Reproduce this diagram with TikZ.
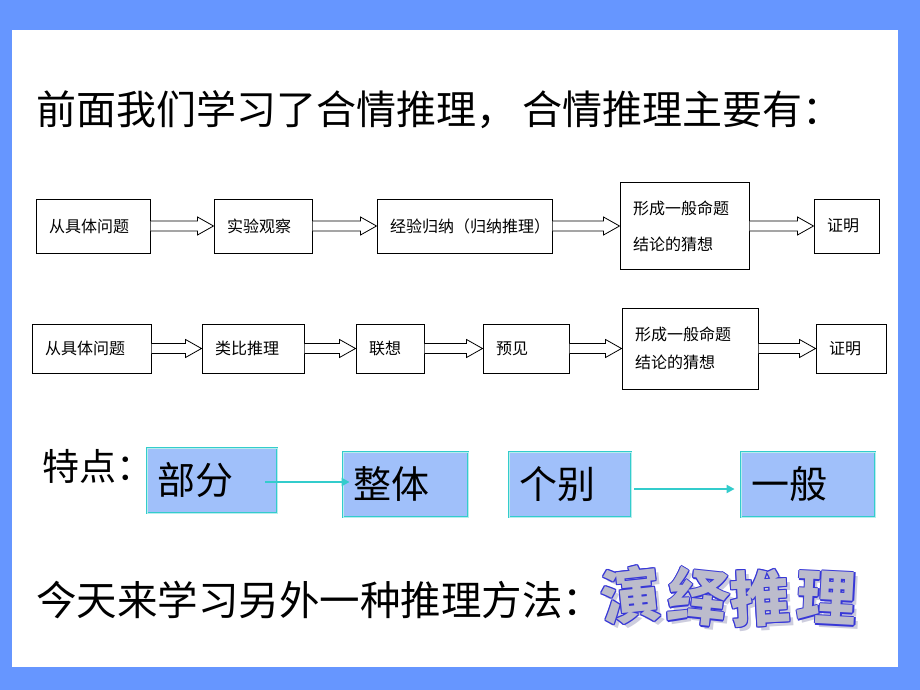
\documentclass[tikz,border=0pt]{standalone}
\usepackage{fontspec}
\setmainfont{Noto Sans CJK SC}
\usetikzlibrary{arrows.meta,calc}
\definecolor{frameblue}{RGB}{102,150,255}
\definecolor{tealc}{RGB}{51,204,204}
\definecolor{boxblue}{RGB}{160,192,250}
\definecolor{fancyblue}{RGB}{55,55,215}
\definecolor{fancygrey}{RGB}{188,188,204}
\definecolor{shadowgrey}{RGB}{205,205,222}
\newcommand\hollowarrow[2]{%
  \draw[harrow] ($(#1.east)+(0,-5)$) -- ($(#2.west)+(-16,-5)$) -- ($(#2.west)+(-16,-9)$)
    -- (#2.west) -- ($(#2.west)+(-16,9)$) -- ($(#2.west)+(-16,5)$) -- ($(#1.east)+(0,5)$);}
\begin{document}
\begin{tikzpicture}[x=1pt,y=-1pt,
  fbox/.style={draw=black, line width=1pt, fill=white, inner xsep=13pt, inner ysep=0pt,
    align=left, font=\fontsize{16}{20}\selectfont},
  harrow/.style={draw=black, line width=0.8pt, line join=miter, fill=white},
  sbox/.style={draw=tealc, double=tealc!35, double distance=0.8pt, line width=0.8pt,
    fill=boxblue, inner xsep=10pt, inner ysep=0pt, align=left, minimum height=65pt,
    font=\fontsize{38}{40}\selectfont},
  tarrow/.style={draw=tealc, line width=2.4pt, -{Triangle[length=8pt,width=8pt]}},
  bigtext/.style={anchor=west, inner sep=0pt, font=\fontsize{40}{42}\selectfont},
  fch/.style={inner sep=0pt, font=\fontsize{60}{60}\selectfont\bfseries}
]
\useasboundingbox (0,0) rectangle (920,690);
\fill[frameblue] (0,0) rectangle (920,690);
\fill[white] (12,30) rectangle (898,667);

% title
\node[bigtext] (title) at (36,110) {前面我们学习了合情推理，\hspace{6pt}合情推理主要有：};

% row 1
\node[fbox, text width=88pt, minimum height=54pt] (a1) at (93,226) {从具体问题};
\node[fbox, text width=72pt, minimum height=54pt] (a2) at (263,226) {实验观察};
\node[fbox, text width=149pt, minimum height=54pt] (a3) at (464.5,226) {经验归纳（归纳推理）};
\node[fbox, text width=103pt, minimum height=87pt, font=\fontsize{16}{36}\selectfont] (a4) at (684.5,226) {形成一般命题\\结论的猜想};
\node[fbox, text width=39pt, minimum height=54pt] (a5) at (846.5,226) {证明};
\hollowarrow{a1}{a2}
\hollowarrow{a2}{a3}
\hollowarrow{a3}{a4}
\hollowarrow{a4}{a5}

% row 2
\node[fbox, text width=93pt, minimum height=49pt] (b1) at (91.5,348.5) {从具体问题};
\node[fbox, text width=76pt, minimum height=49pt] (b2) at (253,348.5) {类比推理};
\node[fbox, text width=42pt, minimum height=49pt] (b3) at (390,348.5) {联想};
\node[fbox, text width=60pt, minimum height=49pt] (b4) at (526,348.5) {预见};
\node[fbox, text width=110pt, minimum height=81pt, font=\fontsize{16}{28}\selectfont] (b5) at (690,348.5) {形成一般命题\\结论的猜想};
\node[fbox, text width=44pt, minimum height=49pt] (b6) at (851,348.5) {证明};
\hollowarrow{b1}{b2}
\hollowarrow{b2}{b3}
\hollowarrow{b3}{b4}
\hollowarrow{b4}{b5}
\hollowarrow{b5}{b6}

% row 3
\node[bigtext, font=\fontsize{37}{40}\selectfont] (tedian) at (42,466) {特点：};
\node[sbox, text width=110pt] (bufen) at (212,480.5) {部分};
\node[sbox, text width=105pt] (zhengti) at (405.5,484.5) {整体};
\node[sbox, text width=102pt] (gebie) at (570,484.5) {个别};
\node[sbox, text width=114pt] (yiban) at (808,484.5) {一般};
\coordinate (bs) at ([xshift=-12pt,yshift=-1.5pt]bufen.east);
\coordinate (be) at (bs -| zhengti.west);
\draw[tarrow] (bs) -- ([xshift=7pt]be);
\draw[tarrow] ([xshift=3pt,yshift=-4.5pt]gebie.east) -- ([xshift=-6pt,yshift=-4.5pt]yiban.west);

% row 4
\node[bigtext, font=\fontsize{40.5}{42}\selectfont] (today) at (36,600) {今天来学习另外一种推理方法：};
\foreach \c/\x/\y/\r [count=\k] in {演/631/595/6, 绎/698/597/-6, 推/760/598/3, 理/827/598/-3}{
  \node[fch, text=shadowgrey, rotate=\r] (sh\k) at (\x+4,\y+4) {\c};
  \foreach \a [count=\m] in {0,45,...,315}{
    \node[fch, text=fancyblue, rotate=\r] (ol\k-\m) at ($(\x,\y)+(\a:1.2pt)$) {\c};
  }
  \node[fch, text=fancygrey, rotate=\r] (fc\k) at (\x,\y) {\c};
}
\end{tikzpicture}
\end{document}
